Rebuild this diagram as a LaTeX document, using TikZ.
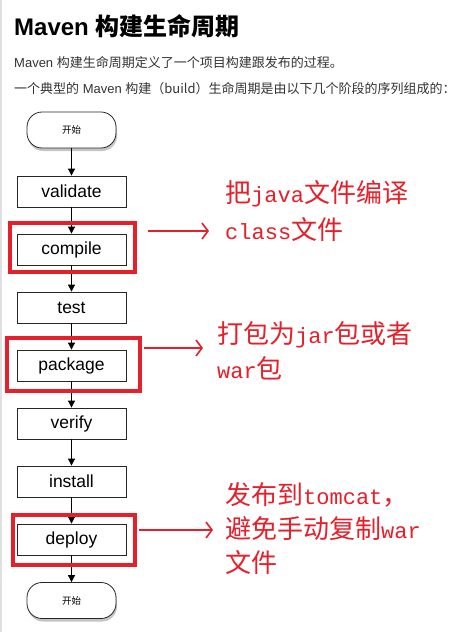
\documentclass[tikz,border=0pt]{standalone}
\usepackage{fontspec}
\setmainfont{Liberation Sans}
\newfontfamily\cjk{Noto Sans CJK SC}
\newfontfamily\mono{Liberation Mono}
\usetikzlibrary{arrows.meta, positioning, shadows}
\definecolor{bodygray}{HTML}{333333}
\definecolor{markred}{HTML}{E5202A}
\newcommand{\latn}[1]{{\mono\fontsize{22}{22}\selectfont #1}}
\tikzset{
    phase/.style={draw=black!85, line width=0.8pt, fill=white, minimum width=109pt, minimum height=31pt, inner sep=0pt, font=\fontsize{17.5}{20}\selectfont, drop shadow={opacity=0.25, shadow xshift=0.8pt, shadow yshift=-1.2pt}},
    term/.style={draw=black!85, line width=0.8pt, fill=white, rounded corners=15pt, minimum width=89pt, minimum height=36pt, inner sep=0pt, font=\cjk\fontsize{9.5}{11}\selectfont, drop shadow={opacity=0.45, shadow xshift=1pt, shadow yshift=-3pt}},
    hl/.style={draw=markred, line width=4pt, inner sep=0pt},
    flow/.style={-{Triangle[length=7pt,width=7pt]}, line width=0.8pt},
    markarrow/.style={draw=markred, line width=1.6pt, -{Straight Barb[length=6pt,width=16pt]}},
    note/.style={text=markred, align=left, anchor=west, inner sep=0pt},
    header/.style={anchor=base west, inner sep=0pt}
}
\begin{document}
\begin{tikzpicture}[x=1pt, y=-1pt, node distance=58pt]
    \fill[white] (0,0) rectangle (462,632);
    \useasboundingbox (0,0) rectangle (462,632);
    \draw[black!12, line width=2pt] (1,0) -- (1,632);

    % heading
    \node (title) [header, font=\fontsize{24}{28}\selectfont\bfseries] at (14,35) {Maven {\cjk 构建生命周期}};
    \node (intro) [header, text=bodygray, font=\fontsize{13}{15}\selectfont] at (14,67) {Maven {\cjk 构建生命周期定义了一个项目构建跟发布的过程。}};
    \node (lead) [header, text=bodygray, font=\fontsize{13}{15}\selectfont] at (14,93) {{\cjk 一个典型的} Maven {\cjk 构建（build）生命周期是由以下几个阶段的序列组成的：}};

    % lifecycle
    \node (start) [term] at (71.5,130) {开始};
    \node (validate) [phase, node distance=61.5pt, below of=start] {validate};
    \node (compile) [phase, below of=validate] {compile};
    \node (test) [phase, below of=compile] {test};
    \node (package) [phase, below of=test] {package};
    \node (verify) [phase, below of=package] {verify};
    \node (install) [phase, below of=verify] {install};
    \node (deploy) [phase, below of=install] {deploy};
    \node (end) [term, node distance=61pt, below of=deploy] {开始};
    \foreach \a/\b in {start/validate, validate/compile, compile/test, test/package, package/verify, verify/install, install/deploy, deploy/end}
        \draw [flow] (\a) -- (\b);

    % red marks
    \node (hlcompile) [hl, minimum width=125pt, minimum height=49pt] at (72.5,247.5) {};
    \node (hlpackage) [hl, minimum width=133pt, minimum height=53pt] at (73.5,364.5) {};
    \node (hldeploy) [hl, minimum width=122pt, minimum height=50pt] at (74,540) {};

    \node (note1) [note, font=\cjk\fontsize{26}{37}\selectfont] at (225,211.5) {把\latn{java}文件编译\\\latn{class}文件};
    \node (note2) [note, font=\cjk\fontsize{26}{35}\selectfont] at (217,350.5) {打包为\latn{jar}包或者\\\latn{war}包};
    \node (note3) [note, font=\cjk\fontsize{26}{34}\selectfont] at (225,529) {发布到\latn{tomcat}，\\避免手动复制\latn{war}\\文件};

    \coordinate (m1) at (209,231);
    \coordinate (m2) at (203,348);
    \coordinate (m3) at (213,530);
    \draw [markarrow] ([xshift=11pt]hlcompile.east |- m1) -- (m1);
    \draw [markarrow] ([xshift=2pt]hlpackage.east |- m2) -- (m2);
    \draw [markarrow] ([xshift=2pt]hldeploy.east |- m3) -- (m3);
\end{tikzpicture}
\end{document}
